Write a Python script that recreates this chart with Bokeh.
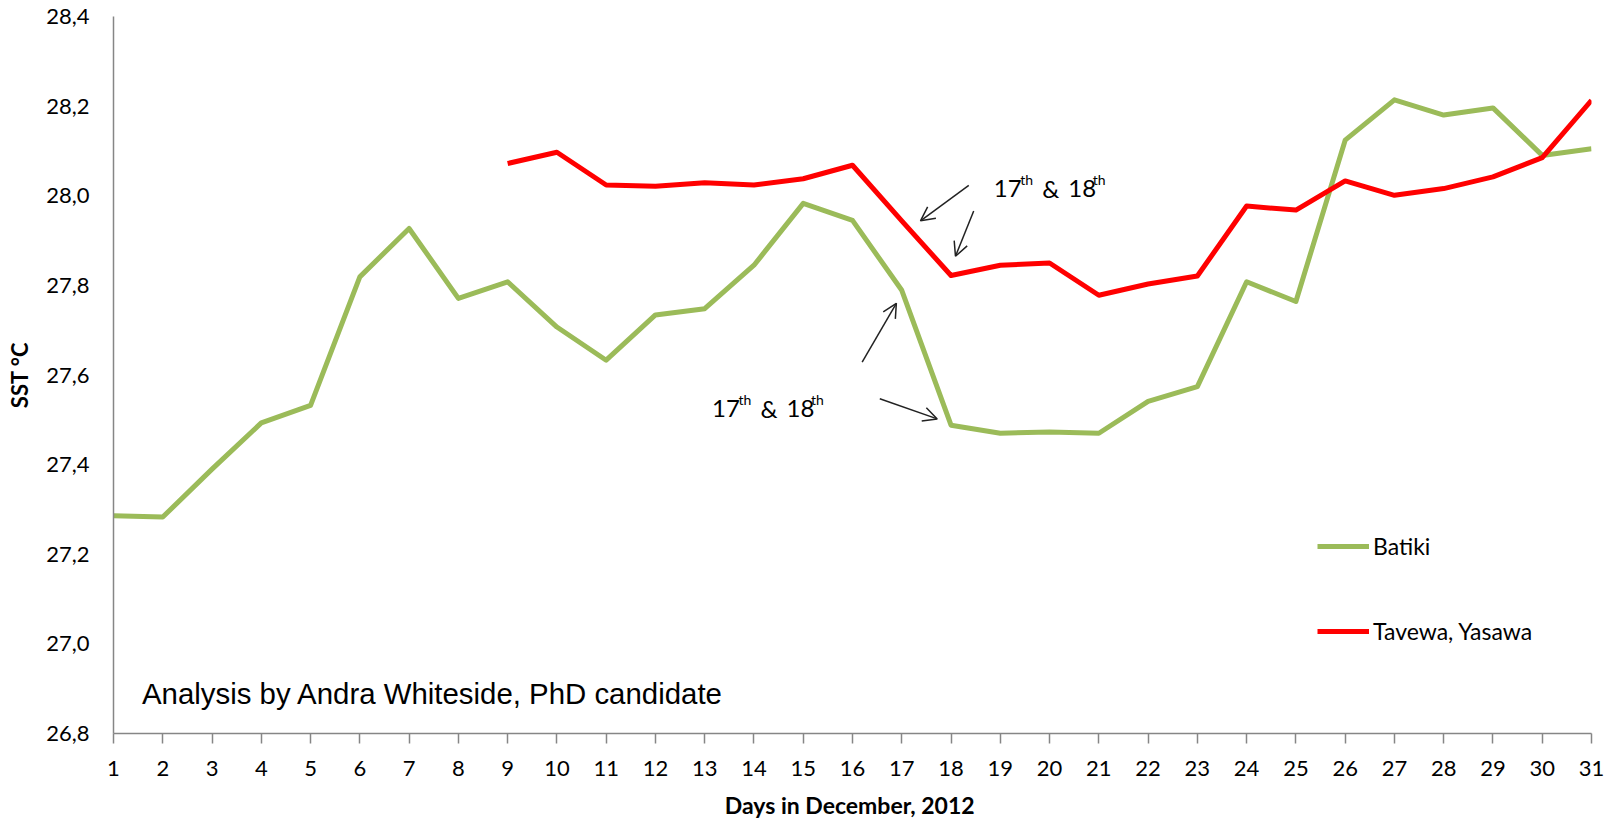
from bokeh.plotting import figure
from bokeh.models import (FixedTicker, Legend, LegendItem, Label, Arrow, OpenHead,
                          ColumnDataSource)
from bokeh.embed import file_html
from bokeh.resources import INLINE

# ---------------- data ----------------
days_batiki = list(range(1, 32))
batiki = [27.286, 27.283, 27.39, 27.493, 27.532, 27.819, 27.927, 27.771, 27.808, 27.707,
          27.633, 27.734, 27.748, 27.845, 27.983, 27.945, 27.789, 27.488, 27.470, 27.473,
          27.470, 27.541, 27.574, 27.808, 27.764, 28.124, 28.214, 28.180, 28.196, 28.090,
          28.105]
days_tavewa = list(range(9, 32))
tavewa = [28.072, 28.097, 28.024, 28.021, 28.029, 28.024, 28.038, 28.068, 27.944, 27.822,
          27.845, 27.850, 27.778, 27.803, 27.821, 27.977, 27.968, 28.033, 28.001, 28.016,
          28.042, 28.085, 28.213]
series_names = ["Batiki", "Tavewa, Yasawa"]
x_ticks = list(range(1, 32))
y_ticks = [26.8, 27.0, 27.2, 27.4, 27.6, 27.8, 28.0, 28.2, 28.4]
y_tick_labels = ["26,8", "27,0", "27,2", "27,4", "27,6", "27,8", "28,0", "28,2", "28,4"]
x_title = "Days  in December, 2012"
y_title = "SST \u00b0C"
credit = "Analysis by Andra Whiteside, PhD candidate"

GREEN = "#9BBB59"
RED = "#FF0000"
AXIS = "#868686"
FONT = "Lato"

p = figure(width=1605, height=821, output_backend="svg", toolbar_location=None,
           x_range=(1, 31), y_range=(26.8, 28.4),
           min_border_left=113, min_border_right=14, min_border_top=16, min_border_bottom=88)
p.outline_line_color = None
p.grid.visible = False
p.background_fill_color = "white"
p.border_fill_color = "white"

src_b = ColumnDataSource(dict(x=days_batiki, y=batiki))
src_t = ColumnDataSource(dict(x=days_tavewa, y=tavewa))
rb = p.line("x", "y", source=src_b, line_color=GREEN, line_width=5, line_join="round")
rt = p.line("x", "y", source=src_t, line_color=RED, line_width=5, line_join="round")

# axes
xa = p.xaxis[0]
xa.ticker = FixedTicker(ticks=x_ticks)
xa.axis_line_color = AXIS
xa.axis_line_width = 1.5
xa.major_tick_line_color = AXIS
xa.major_tick_line_width = 1.5
xa.major_tick_out = 10
xa.major_tick_in = 0
xa.minor_tick_line_color = None
xa.major_label_text_font = FONT
xa.major_label_text_font_size = "22px"
xa.major_label_text_color = "black"
xa.major_label_standoff = 17
xa.axis_label = x_title
xa.axis_label_text_font = FONT
xa.axis_label_text_font_style = "bold"
xa.axis_label_text_font_size = "23px"
xa.axis_label_text_color = "black"
xa.axis_label_standoff = 12

ya = p.yaxis[0]
ya.ticker = FixedTicker(ticks=y_ticks)
ya.major_label_overrides = {t: l for t, l in zip(y_ticks, y_tick_labels)}
ya.axis_line_color = AXIS
ya.axis_line_width = 1.5
ya.major_tick_line_color = None
ya.major_tick_out = 0
ya.major_tick_in = 0
ya.minor_tick_line_color = None
ya.major_label_text_font = FONT
ya.major_label_text_font_size = "22px"
ya.major_label_text_color = "black"
ya.major_label_standoff = 24
ya.axis_label = y_title
ya.axis_label_text_font = FONT
ya.axis_label_text_font_style = "bold"
ya.axis_label_text_font_size = "22px"
ya.axis_label_text_color = "black"
ya.axis_label_standoff = 10

# legend
legend = Legend(items=[LegendItem(label=series_names[0], renderers=[rb]),
                       LegendItem(label=series_names[1], renderers=[rt])],
                location=(1204, 88), orientation="vertical",
                glyph_width=52, glyph_height=20, label_height=20, label_standoff=4,
                spacing=57, padding=0, margin=0,
                border_line_alpha=0, background_fill_alpha=0,
                label_text_font=FONT, label_text_font_size="23px",
                label_text_color="black")
p.add_layout(legend)

# credit text
p.add_layout(Label(x=1.577, y=26.89, text=credit, text_font="Liberation Sans",
                   text_font_size="29.4px", text_color="black",
                   text_baseline="alphabetic", text_align="left"))

# "17th & 18th" annotations (anchor in data units, pieces offset in px)
ann_anchor = [(18.868, 28.017), (13.15, 27.526)]
pieces = [("17", 0, 0, "24px"), ("th", 26.5, 8.4, "14px"), ("&", 48.5, 0, "24px"),
          ("18", 74.5, 0, "24px"), ("th", 99, 8.4, "14px")]
for ax_, ay_ in ann_anchor:
    for txt, dx, dy, fs in pieces:
        p.add_layout(Label(x=ax_, y=ay_, x_offset=dx, y_offset=dy, text=txt,
                           text_font=FONT, text_font_size=fs, text_color="black",
                           text_baseline="alphabetic", text_align="left"))

arrows = [((18.36, 28.023), (17.38, 27.944)),
          ((18.46, 27.966), (18.09, 27.865)),
          ((16.196, 27.629), (16.89, 27.760)),
          ((16.554, 27.547), (17.72, 27.502))]
for (xs, ys), (xe, ye) in arrows:
    p.add_layout(Arrow(x_start=xs, y_start=ys, x_end=xe, y_end=ye,
                       line_color="#222222", line_width=1.5,
                       end=OpenHead(size=14, line_color="#222222", line_width=1.5)))

open("out.html", "w").write(file_html(p, INLINE))
